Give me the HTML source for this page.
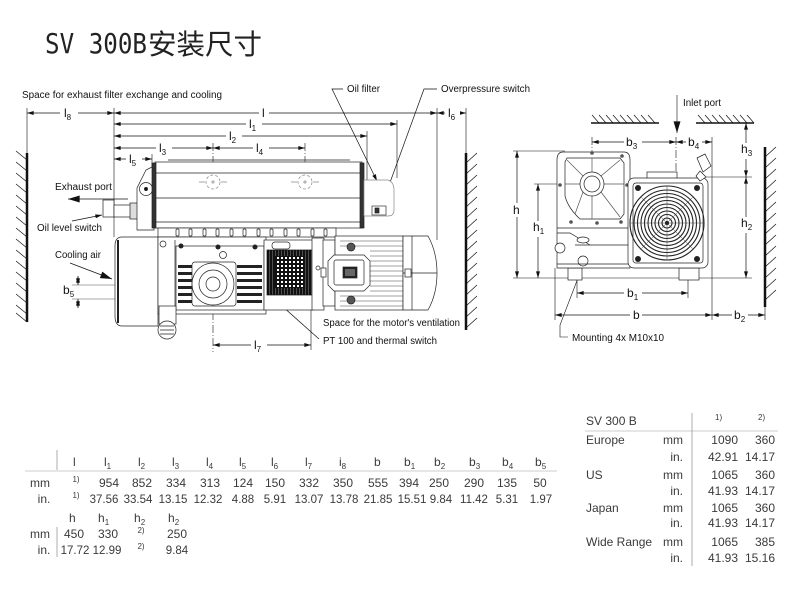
<!DOCTYPE html>
<html><head><meta charset="utf-8"><style>
html,body{margin:0;padding:0;background:#fff;}
svg{display:block;}
.d{font-family:"Liberation Sans",sans-serif;font-size:12px;fill:#111;}
.n{font-family:"Liberation Sans",sans-serif;font-size:10px;fill:#111;}
.t{font-family:"Liberation Sans",sans-serif;font-size:12px;fill:#3a3a3a;}
.t.sm{font-size:8px;}
.t.w{font-size:11.5px;}
</style></head><body>
<svg width="800" height="603" viewBox="0 0 800 603" xmlns="http://www.w3.org/2000/svg">
<defs>
<marker id="a" viewBox="0 0 10 6" refX="10" refY="3" markerWidth="7" markerHeight="4" markerUnits="userSpaceOnUse" orient="auto-start-reverse"><path d="M0,0L10,3L0,6z" fill="#111"/></marker>
<marker id="b" viewBox="0 0 10 6" refX="10" refY="3" markerWidth="14" markerHeight="7" markerUnits="userSpaceOnUse" orient="auto"><path d="M0,0L10,3L0,6z" fill="#111"/></marker>
<pattern id="mesh" width="4" height="4" patternUnits="userSpaceOnUse"><rect width="4" height="4" fill="#111"/><rect x="1" y="1" width="2" height="2" fill="#fff"/></pattern>
<pattern id="vl" width="3" height="4" patternUnits="userSpaceOnUse"><rect width="3" height="4" fill="#111"/><rect x="2" width="0.6" height="4" fill="#777"/></pattern>
</defs>

<!-- Title -->
<text x="45" y="53" font-family="DejaVu Sans Mono, Liberation Mono, monospace" font-size="28" fill="#222" textLength="102" lengthAdjust="spacingAndGlyphs">SV 300B</text>
<text x="148" y="54" font-family="Noto Sans CJK SC, WenQuanYi Zen Hei, sans-serif" font-size="28" fill="#222" textLength="114" lengthAdjust="spacingAndGlyphs">安装尺寸</text>

<!-- Notes -->
<text class="n" x="22" y="98" textLength="200" lengthAdjust="spacingAndGlyphs">Space for exhaust filter exchange and cooling</text>
<text class="n" x="347" y="92" textLength="33" lengthAdjust="spacingAndGlyphs">Oil filter</text>
<text class="n" x="441" y="92" textLength="89" lengthAdjust="spacingAndGlyphs">Overpressure switch</text>
<text class="n" x="55" y="190" textLength="57" lengthAdjust="spacingAndGlyphs">Exhaust port</text>
<text class="n" x="37" y="231" textLength="65" lengthAdjust="spacingAndGlyphs">Oil level switch</text>
<text class="n" x="55" y="258" textLength="46" lengthAdjust="spacingAndGlyphs">Cooling air</text>
<text class="n" x="323" y="326" textLength="137" lengthAdjust="spacingAndGlyphs">Space for the motor's ventilation</text>
<text class="n" x="323" y="344" textLength="114" lengthAdjust="spacingAndGlyphs">PT 100 and thermal switch</text>
<text class="n" x="683" y="106" textLength="38" lengthAdjust="spacingAndGlyphs">Inlet port</text>
<text class="n" x="572" y="341" textLength="92" lengthAdjust="spacingAndGlyphs">Mounting 4x M10x10</text>

<!-- Walls side view -->
<g stroke="#111" fill="none">
<line x1="27" y1="153" x2="27" y2="322" stroke-width="2.5"/>
<path stroke-width="0.7" d="M16,151L27,160M16,162L27,171M16,173L27,182M16,184L27,193M16,195L27,204M16,206L27,215M16,217L27,226M16,228L27,237M16,239L27,248M16,250L27,259M16,261L27,270M16,272L27,281M16,283L27,292M16,294L27,303M16,305L27,314M16,313L27,322"/>
<line x1="466" y1="153" x2="466" y2="330" stroke-width="2.5"/>
<path stroke-width="0.7" d="M466,163L477,153M466,174L477,164M466,185L477,175M466,196L477,186M466,207L477,197M466,218L477,208M466,229L477,219M466,240L477,230M466,251L477,241M466,262L477,252M466,273L477,263M466,284L477,274M466,295L477,285M466,306L477,296M466,317L477,307M466,328L477,318"/>
<!-- end view walls -->
<line x1="765" y1="147" x2="765" y2="307" stroke-width="2.5"/>
<path stroke-width="0.7" d="M765,157L776,147M765,168L776,158M765,179L776,169M765,190L776,180M765,201L776,191M765,212L776,202M765,223L776,213M765,234L776,224M765,245L776,235M765,256L776,246M765,267L776,257M765,278L776,268M765,289L776,279M765,300L776,290"/>
<line x1="591" y1="123" x2="659" y2="123" stroke-width="1.6"/>
<line x1="696" y1="123" x2="754" y2="123" stroke-width="1.6"/>
<path stroke-width="0.7" d="M592,115L599,123M599,115L606,123M606,115L613,123M613,115L620,123M620,115L627,123M627,115L634,123M634,115L641,123M641,115L648,123M648,115L655,123M698,115L705,123M705,115L712,123M712,115L719,123M719,115L726,123M726,115L733,123M733,115L740,123M740,115L747,123M747,115L754,123"/>
</g>

<!-- Extension lines side view -->
<g stroke="#111" stroke-width="0.6" fill="none">
<line x1="27" y1="108" x2="27" y2="153"/>
<line x1="114" y1="108" x2="114" y2="237"/>
<line x1="437" y1="108" x2="437" y2="240"/>
<line x1="466" y1="108" x2="466" y2="153"/>
<line x1="397" y1="120" x2="397" y2="178"/>
<line x1="367" y1="131" x2="367" y2="182"/>
<line x1="152" y1="154" x2="152" y2="168"/>
<line x1="311" y1="298" x2="311" y2="350"/>
<line x1="213" y1="143" x2="213" y2="352" stroke-dasharray="8,2,1,2"/>
<line x1="305" y1="143" x2="305" y2="198" stroke-dasharray="8,2,1,2"/>
<line x1="72" y1="285" x2="265" y2="285" stroke="#555"/>
<line x1="72" y1="299" x2="200" y2="299" stroke="#555"/>
</g>

<!-- Dimension lines side view -->
<g stroke="#111" stroke-width="0.7" fill="none" marker-start="url(#a)" marker-end="url(#a)">
<line x1="27" y1="113" x2="114" y2="113"/>
<line x1="114" y1="113" x2="437" y2="113"/>
<line x1="437" y1="113" x2="466" y2="113"/>
<line x1="114" y1="124" x2="397" y2="124"/>
<line x1="114" y1="136" x2="367" y2="136"/>
<line x1="114" y1="148" x2="213" y2="148"/>
<line x1="213" y1="148" x2="305" y2="148"/>
<line x1="114" y1="159" x2="152" y2="159"/>
<line x1="213" y1="345" x2="311" y2="345"/>
<line x1="78" y1="276" x2="78" y2="285"/>
<line x1="78" y1="308" x2="78" y2="299"/>
</g>
<g fill="#fff">
<rect x="60" y="106" width="18" height="14"/>
<rect x="259" y="106" width="10" height="14"/>
<rect x="445" y="106" width="15" height="14"/>
<rect x="246" y="117" width="16" height="14"/>
<rect x="226" y="129" width="16" height="14"/>
<rect x="156" y="141" width="16" height="14"/>
<rect x="253" y="141" width="16" height="14"/>
<rect x="126" y="152" width="16" height="14"/>
<rect x="251" y="338" width="16" height="14"/>
</g>
<g>
<text class="d" x="64" y="117">l<tspan font-size="8" dy="3">8</tspan></text>
<text class="d" x="262" y="117">l</text>
<text class="d" x="448" y="117">l<tspan font-size="8" dy="3">6</tspan></text>
<text class="d" x="249" y="128">l<tspan font-size="8" dy="3">1</tspan></text>
<text class="d" x="229" y="140">l<tspan font-size="8" dy="3">2</tspan></text>
<text class="d" x="159" y="152">l<tspan font-size="8" dy="3">3</tspan></text>
<text class="d" x="256" y="152">l<tspan font-size="8" dy="3">4</tspan></text>
<text class="d" x="129" y="163">l<tspan font-size="8" dy="3">5</tspan></text>
<text class="d" x="254" y="349">l<tspan font-size="8" dy="3">7</tspan></text>
<text class="d" x="63" y="294">b<tspan font-size="8" dy="3">5</tspan></text>
</g>

<!-- Leaders and arrows side view -->
<g stroke="#111" stroke-width="0.7" fill="none">
<path d="M343,89L332,89L377,181" marker-end="url(#a)"/>
<path d="M437,89L424,89L380,210" marker-end="url(#a)"/>
<line x1="128" y1="199" x2="68" y2="199" marker-end="url(#b)"/>
<line x1="72" y1="221" x2="102" y2="215" marker-end="url(#a)"/>
<line x1="70" y1="263" x2="112" y2="279" marker-end="url(#b)"/>
<line x1="226" y1="256" x2="319" y2="339"/>
</g>

<!-- Side view: pump body -->
<g stroke="#222" stroke-width="0.7" fill="#fff">
<rect x="103" y="200" width="11" height="17"/>
<rect x="114" y="205" width="24" height="12"/>
<rect x="130" y="203" width="8" height="16" fill="#ddd"/>
<path d="M154,166L146,170L137,188L137,230L154,230Z"/>
<circle cx="146" cy="189" r="6.5"/>
<circle cx="146" cy="189" r="1.6" fill="#111"/>
<rect x="155" y="162" width="207" height="66"/>
<line x1="168" y1="160" x2="350" y2="160"/>
<line x1="155" y1="173" x2="362" y2="173"/>
<line x1="155" y1="198" x2="362" y2="198"/>
<line x1="155" y1="222" x2="362" y2="222"/>
<rect x="152" y="163" width="4" height="65" fill="#333"/>
<rect x="360" y="163" width="4" height="65" fill="#333"/>
<path d="M364,180L388,180Q394,182 394,190L394,210Q394,216 388,216L364,216Z" stroke="#888"/>
<rect x="372" y="206" width="14" height="9" stroke="#333"/>
<rect x="375" y="208" width="4" height="5" fill="#333"/>
</g>
<g stroke="#888" stroke-width="0.7" fill="none">
<circle cx="213" cy="182" r="7" stroke-dasharray="3,2"/>
<circle cx="305" cy="182" r="7" stroke-dasharray="3,2"/>
<path d="M211,182h4M213,180v4M303,182h4M305,180v4"/>
<path d="M199,182h6M221,182h6M291,182h6M313,182h6"/>
</g>

<!-- Lower body -->
<g stroke="#222" stroke-width="0.7" fill="#fff">
<rect x="158" y="228" width="178" height="9"/>
<rect x="176" y="229" width="3" height="7" rx="1"/><rect x="189" y="229" width="3" height="7" rx="1"/><rect x="203" y="229" width="3" height="7" rx="1"/><rect x="216" y="229" width="3" height="7" rx="1"/><rect x="230" y="229" width="3" height="7" rx="1"/><rect x="243" y="229" width="3" height="7" rx="1"/><rect x="257" y="229" width="3" height="7" rx="1"/><rect x="270" y="229" width="3" height="7" rx="1"/><rect x="284" y="229" width="3" height="7" rx="1"/><rect x="297" y="229" width="3" height="7" rx="1"/><rect x="311" y="229" width="3" height="7" rx="1"/><rect x="324" y="229" width="3" height="7" rx="1"/>
<path d="M158,237L122,237Q115,237 115,246L115,316Q115,326 122,326L158,326Z"/>
<line x1="118" y1="240" x2="118" y2="323" stroke-width="2"/>
<rect x="158" y="237" width="108" height="77"/>
<line x1="175" y1="240" x2="175" y2="312"/>
<rect x="176" y="246" width="88" height="64"/>
<rect x="192" y="262" width="44" height="44" rx="3"/>
<circle cx="213" cy="284" r="21"/>
<circle cx="213" cy="284" r="14"/>
<circle cx="213" cy="284" r="7"/>
<g fill="#222" stroke="none">
<rect x="178" y="265" width="14" height="3"/><rect x="178" y="272" width="14" height="3"/><rect x="178" y="279" width="14" height="3"/><rect x="178" y="286" width="14" height="3"/><rect x="178" y="293" width="14" height="3"/><rect x="178" y="300" width="14" height="3"/>
<rect x="237" y="265" width="25" height="3"/><rect x="237" y="272" width="25" height="3"/><rect x="237" y="279" width="25" height="3"/><rect x="237" y="286" width="25" height="3"/><rect x="237" y="293" width="25" height="3"/><rect x="237" y="300" width="25" height="3"/>
<circle cx="181" cy="246" r="2.5"/><circle cx="218" cy="247" r="2.5"/><circle cx="255" cy="247" r="2.5"/>
</g>
<circle cx="223" cy="255" r="3.5"/>
<circle cx="163" cy="244" r="3"/>
<rect x="159" y="306" width="17" height="18"/>
<circle cx="167" cy="330" r="9"/>
<path d="M160,326h14M160,330h14M160,334h14"/>
<rect x="264" y="240" width="50" height="70"/>
<rect x="267" y="250" width="45" height="45" fill="url(#vl)" stroke="#111"/>
<rect x="275" y="256" width="30" height="32" fill="url(#mesh)" stroke="none"/>
<rect x="272" y="242" width="18" height="7" rx="3"/>
<rect x="312" y="238" width="12" height="72"/>
<circle cx="318" cy="268" r="2"/>
<rect x="323" y="240" width="12" height="66"/>
<rect x="335" y="236" width="68" height="74"/>
<path d="M403,236L428,236Q437,252 437,273Q437,294 428,310L403,310Z"/>
<line x1="412" y1="236" x2="412" y2="310"/>
<line x1="403" y1="273" x2="437" y2="273"/>
<rect x="405" y="269" width="6" height="8"/>
</g>
<g stroke="#444" stroke-width="0.6" fill="none">
<path d="M370,241H403M370,246H403M370,251H403M370,256H403M370,261H403M370,266H403M370,271H403M370,276H403M370,281H403M370,286H403M370,291H403M370,296H403M370,301H403M370,306H403"/>
<path d="M340,241H370M340,246H370M340,296H370M340,301H370M340,306H370"/>
</g>
<g stroke="#222" stroke-width="0.7" fill="#fff">
<path d="M334,255L364,255L370,261L370,285L364,291L334,291L328,285L328,261Z"/>
<rect x="334" y="260" width="30" height="25" rx="2"/>
<rect x="343" y="267" width="14" height="11" fill="#222"/>
<rect x="345" y="269" width="10" height="7" fill="#666" stroke="none"/>
<circle cx="351" cy="247" r="4" fill="#555"/>
<circle cx="351" cy="300" r="4" fill="#555"/>
<rect x="321" y="268" width="5" height="9"/>
</g>

<!-- End view -->
<g stroke="#111" stroke-width="0.6" fill="none">
<line x1="513" y1="151" x2="565" y2="151"/>
<line x1="534" y1="184" x2="610" y2="184"/>
<line x1="513" y1="278" x2="752" y2="278"/>
<line x1="700" y1="177" x2="752" y2="177"/>
<line x1="555" y1="268" x2="555" y2="320"/>
<line x1="577" y1="280" x2="577" y2="298"/>
<line x1="688" y1="280" x2="688" y2="298"/>
<line x1="712" y1="137" x2="712" y2="320"/>
<line x1="765" y1="307" x2="765" y2="320"/>
<line x1="592" y1="137" x2="592" y2="196" stroke-dasharray="8,2,1,2"/>
<line x1="676" y1="137" x2="676" y2="180" stroke-dasharray="8,2,1,2"/>
<line x1="677" y1="95" x2="677" y2="133" marker-end="url(#b)"/>
<path d="M578,278L560,325L560,337L568,337"/>
</g>
<g stroke="#111" stroke-width="0.7" fill="none" marker-start="url(#a)" marker-end="url(#a)">
<line x1="592" y1="142" x2="676" y2="142"/>
<line x1="676" y1="142" x2="712" y2="142"/>
<line x1="746" y1="123" x2="746" y2="177"/>
<line x1="746" y1="177" x2="746" y2="278"/>
<line x1="517" y1="151" x2="517" y2="278"/>
<line x1="538" y1="184" x2="538" y2="278"/>
<line x1="577" y1="293" x2="688" y2="293"/>
<line x1="555" y1="315" x2="712" y2="315"/>
<line x1="712" y1="315" x2="765" y2="315"/>
</g>
<g fill="#fff">
<rect x="624" y="135" width="18" height="14"/>
<rect x="686" y="135" width="16" height="14"/>
<rect x="739" y="143" width="16" height="16"/>
<rect x="739" y="217" width="16" height="16"/>
<rect x="510" y="203" width="12" height="14"/>
<rect x="531" y="221" width="16" height="16"/>
<rect x="624" y="286" width="18" height="14"/>
<rect x="630" y="308" width="12" height="14"/>
<rect x="732" y="308" width="16" height="14"/>
</g>
<g>
<text class="d" x="626" y="146">b<tspan font-size="8" dy="3">3</tspan></text>
<text class="d" x="688" y="146">b<tspan font-size="8" dy="3">4</tspan></text>
<text class="d" x="741" y="153">h<tspan font-size="8" dy="3">3</tspan></text>
<text class="d" x="741" y="227">h<tspan font-size="8" dy="3">2</tspan></text>
<text class="d" x="513" y="214">h</text>
<text class="d" x="533" y="231">h<tspan font-size="8" dy="3">1</tspan></text>
<text class="d" x="627" y="297">b<tspan font-size="8" dy="3">1</tspan></text>
<text class="d" x="633" y="319">b</text>
<text class="d" x="734" y="319">b<tspan font-size="8" dy="3">2</tspan></text>
</g>
<g stroke="#222" stroke-width="0.7" fill="#fff">
<rect x="568" y="268" width="14" height="12"/>
<rect x="679" y="268" width="20" height="12"/>
<path d="M563,152L624,152Q630,152 630,160L630,268L557,268L557,160Q557,152 563,152Z"/>
<path d="M567,158L620,158L624,163L624,214L620,219L580,219Q568,208 565,196L565,162Z"/>
<path fill="none" stroke="#555" d="M583,176L567,160M592,172L592,158M601,176L620,160M604,184L624,184M601,192L620,217M592,196L592,219M583,192L575,214M580,184L565,184"/>
<circle cx="592" cy="184" r="12"/>
<circle cx="592" cy="184" r="8"/>
<g fill="#555" stroke="none">
<circle cx="592" cy="153" r="1.8"/><circle cx="622" cy="156" r="1.8"/><circle cx="627" cy="185" r="1.8"/><circle cx="560" cy="185" r="1.8"/><circle cx="571" cy="222" r="1.8"/><circle cx="597" cy="223" r="1.8"/><circle cx="621" cy="222" r="1.8"/>
</g>
<line x1="557" y1="228" x2="630" y2="228"/>
<line x1="575" y1="245" x2="630" y2="245"/>
<path d="M557,233L570,233L590,245"/>
<circle cx="560" cy="248" r="5"/>
<ellipse cx="583" cy="240" rx="6" ry="3"/>
<circle cx="583" cy="261" r="5"/>
<line x1="557" y1="264" x2="630" y2="264"/>
<rect x="647" y="172" width="30" height="7"/>
<rect x="628" y="178" width="80" height="90" rx="6"/>
<rect x="633" y="183" width="70" height="80" rx="3"/>
<g fill="none" stroke="#222" stroke-width="1.1">
<circle cx="667" cy="223" r="37"/><circle cx="667" cy="223" r="33"/><circle cx="667" cy="223" r="29.5"/><circle cx="667" cy="223" r="26"/><circle cx="667" cy="223" r="22.5"/><circle cx="667" cy="223" r="19"/><circle cx="667" cy="223" r="15.5"/><circle cx="667" cy="223" r="12"/><circle cx="667" cy="223" r="8.5"/><circle cx="667" cy="223" r="5"/>
</g>
<path d="M667,186V260M630,223H704M641,197L693,249M693,197L641,249" stroke="#444" fill="none" stroke-width="0.5"/>
<g fill="#222" stroke="none">
<circle cx="638" cy="188" r="3"/><circle cx="697" cy="188" r="3"/><circle cx="638" cy="259" r="3"/><circle cx="697" cy="259" r="3"/><circle cx="667" cy="223" r="2"/>
</g>
<path d="M697,158L705,154L711,166L703,172Z"/>
<path d="M700,171L706,177L700,181L696,176Z"/>
</g>

<!-- Main table -->
<g stroke="#bbb" stroke-width="0.8">
<line x1="25" y1="471" x2="557" y2="471"/>
<line x1="57" y1="450" x2="57" y2="470" stroke="#999"/>
<line x1="57" y1="527" x2="57" y2="557" stroke="#999"/>
</g>
<g>
<text class="t" x="73" y="466">l</text>
<text class="t" x="104" y="466">l<tspan font-size="8" dy="3">1</tspan></text>
<text class="t" x="138" y="466">l<tspan font-size="8" dy="3">2</tspan></text>
<text class="t" x="172" y="466">l<tspan font-size="8" dy="3">3</tspan></text>
<text class="t" x="206" y="466">l<tspan font-size="8" dy="3">4</tspan></text>
<text class="t" x="239" y="466">l<tspan font-size="8" dy="3">5</tspan></text>
<text class="t" x="271" y="466">l<tspan font-size="8" dy="3">6</tspan></text>
<text class="t" x="305" y="466">l<tspan font-size="8" dy="3">7</tspan></text>
<text class="t" x="339" y="466">i<tspan font-size="8" dy="3">8</tspan></text>
<text class="t" x="374" y="466">b</text>
<text class="t" x="404" y="466">b<tspan font-size="8" dy="3">1</tspan></text>
<text class="t" x="434" y="466">b<tspan font-size="8" dy="3">2</tspan></text>
<text class="t" x="469" y="466">b<tspan font-size="8" dy="3">3</tspan></text>
<text class="t" x="502" y="466">b<tspan font-size="8" dy="3">4</tspan></text>
<text class="t" x="535" y="466">b<tspan font-size="8" dy="3">5</tspan></text>
</g>
<g text-anchor="middle">
<text class="t" x="40" y="487">mm</text>
<text class="t" x="44" y="503">in.</text>
<text class="t sm" x="76" y="482">1)</text>
<text class="t sm" x="76" y="498">1)</text>
<text class="t" x="109" y="487">954</text><text class="t" x="142" y="487">852</text><text class="t" x="176" y="487">334</text><text class="t" x="210" y="487">313</text><text class="t" x="243" y="487">124</text><text class="t" x="275" y="487">150</text><text class="t" x="309" y="487">332</text><text class="t" x="343" y="487">350</text><text class="t" x="378" y="487">555</text><text class="t" x="409" y="487">394</text><text class="t" x="439" y="487">250</text><text class="t" x="474" y="487">290</text><text class="t" x="507" y="487">135</text><text class="t" x="540" y="487">50</text>
<text class="t w" x="104" y="503">37.56</text><text class="t w" x="138" y="503">33.54</text><text class="t w" x="173" y="503">13.15</text><text class="t w" x="208" y="503">12.32</text><text class="t w" x="243" y="503">4.88</text><text class="t w" x="275" y="503">5.91</text><text class="t w" x="309" y="503">13.07</text><text class="t w" x="344" y="503">13.78</text><text class="t w" x="378" y="503">21.85</text><text class="t w" x="412" y="503">15.51</text><text class="t w" x="441" y="503">9.84</text><text class="t w" x="474" y="503">11.42</text><text class="t w" x="507" y="503">5.31</text><text class="t w" x="541" y="503">1.97</text>
<text class="t" x="40" y="538">mm</text>
<text class="t" x="44" y="554">in.</text>
<text class="t" x="74" y="538">450</text><text class="t" x="108" y="538">330</text><text class="t sm" x="141" y="533">2)</text><text class="t" x="177" y="538">250</text>
<text class="t w" x="75" y="554">17.72</text><text class="t w" x="107" y="554">12.99</text><text class="t sm" x="141" y="549">2)</text><text class="t w" x="177" y="554">9.84</text>
</g>
<g>
<text class="t" x="69" y="522">h</text>
<text class="t" x="98" y="522">h<tspan font-size="8" dy="3">1</tspan></text>
<text class="t" x="134" y="522">h<tspan font-size="8" dy="3">2</tspan></text>
<text class="t" x="168" y="522">h<tspan font-size="8" dy="3">2</tspan></text>
</g>

<!-- Right table -->
<g stroke="#bbb" stroke-width="0.8">
<line x1="585" y1="431" x2="778" y2="431"/>
<line x1="692" y1="413" x2="692" y2="566" stroke="#999"/>
</g>
<g>
<text class="t" x="586" y="425">SV 300 B</text>
<text class="t sm" x="715" y="420">1)</text>
<text class="t sm" x="758" y="420">2)</text>
<text class="t" x="586" y="444">Europe</text>
<text class="t" x="586" y="479">US</text>
<text class="t" x="586" y="512">Japan</text>
<text class="t" x="586" y="546">Wide Range</text>
</g>
<g text-anchor="end">
<text class="t" x="683" y="444">mm</text><text class="t" x="738" y="444">1090</text><text class="t" x="775" y="444">360</text>
<text class="t" x="683" y="461">in.</text><text class="t" x="738" y="461">42.91</text><text class="t" x="775" y="461">14.17</text>
<text class="t" x="683" y="479">mm</text><text class="t" x="738" y="479">1065</text><text class="t" x="775" y="479">360</text>
<text class="t" x="683" y="495">in.</text><text class="t" x="738" y="495">41.93</text><text class="t" x="775" y="495">14.17</text>
<text class="t" x="683" y="512">mm</text><text class="t" x="738" y="512">1065</text><text class="t" x="775" y="512">360</text>
<text class="t" x="683" y="527">in.</text><text class="t" x="738" y="527">41.93</text><text class="t" x="775" y="527">14.17</text>
<text class="t" x="683" y="546">mm</text><text class="t" x="738" y="546">1065</text><text class="t" x="775" y="546">385</text>
<text class="t" x="683" y="562">in.</text><text class="t" x="738" y="562">41.93</text><text class="t" x="775" y="562">15.16</text>
</g>
</svg>
</body></html>
